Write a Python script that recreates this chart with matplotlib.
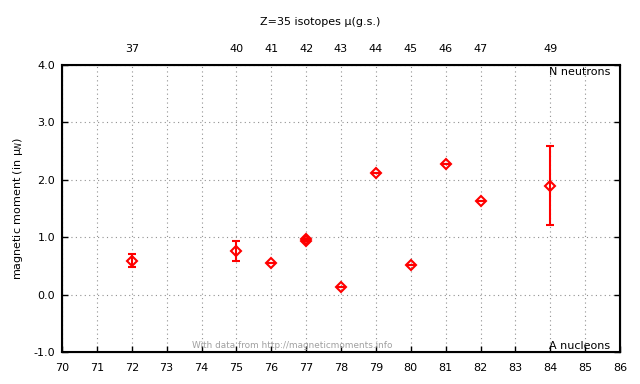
import matplotlib
matplotlib.use("Agg")
import matplotlib.pyplot as plt
from matplotlib.ticker import FixedLocator, FormatStrFormatter

A = [72, 75, 76, 77, 77, 78, 79, 80, 81, 82, 84]
N = [37, 40, 41, 42, 42, 43, 44, 45, 46, 47, 49]
mu = [0.59, 0.76, 0.545, 0.97, 0.93, 0.13, 2.12, 0.52, 2.28, 1.63, 1.90]
err = [0.11, 0.18, 0.0, 0.0, 0.0, 0.0, 0.0, 0.0, 0.0, 0.0, 0.69]

top_pos = [72, 75, 76, 77, 78, 79, 80, 81, 82, 84]
top_labels = ["37", "40", "41", "42", "43", "44", "45", "46", "47", "49"]

plt.rcParams['font.family'] = ['DejaVu Sans']
fs = 8

fig = plt.figure(figsize=(6.4, 3.84), dpi=100)
ax = fig.add_axes([62/640, 1-352/384, (620-62)/640, (352-65)/384])

ax.set_xlim(70, 86)
ax.set_ylim(-1.0, 4.0)
ax.xaxis.set_major_locator(FixedLocator(list(range(70, 87))))
ax.yaxis.set_major_locator(FixedLocator([-1.0, 0.0, 1.0, 2.0, 3.0, 4.0]))
ax.yaxis.set_major_formatter(FormatStrFormatter('%.1f'))
ax.grid(True, color='#909090', linestyle=(0, (1, 3)), linewidth=0.8)
ax.tick_params(direction='in', length=4, width=1, labelsize=fs, top=True, right=True, labeltop=False)
ax.tick_params(axis='x', pad=8)
ax.tick_params(axis='y', pad=5)
for s in ax.spines.values():
    s.set_linewidth(1.5)

ax.errorbar(A, mu, yerr=err, fmt='D', mfc='none', mec='red', ecolor='red',
            color='red', ms=5, mew=1.5, elinewidth=1.5, capsize=3, capthick=1.5, zorder=3)

ax2 = ax.twiny()
ax2.set_xlim(ax.get_xlim())
ax2.set_xticks(top_pos)
ax2.set_xticklabels(top_labels)
ax2.tick_params(direction='in', length=0, labelsize=fs, pad=8)

ax.set_ylabel("magnetic moment (in μ$_N$)", fontsize=fs, labelpad=6)
fig.text(320/640, 1-22/384, "Z=35 isotopes μ(g.s.)", ha='center', va='center', fontsize=fs)
ax.text(83.95, 3.88, "N neutrons", ha='left', va='center', fontsize=fs)
ax.text(83.95, -0.89, "A nucleons", ha='left', va='center', fontsize=fs)
ax.text(76.6, -0.89, "With data from http://magneticmoments.info", ha='center', va='center',
        fontsize=6.4, color='#a0a0a0')

fig.savefig("out.png", dpi=100)
